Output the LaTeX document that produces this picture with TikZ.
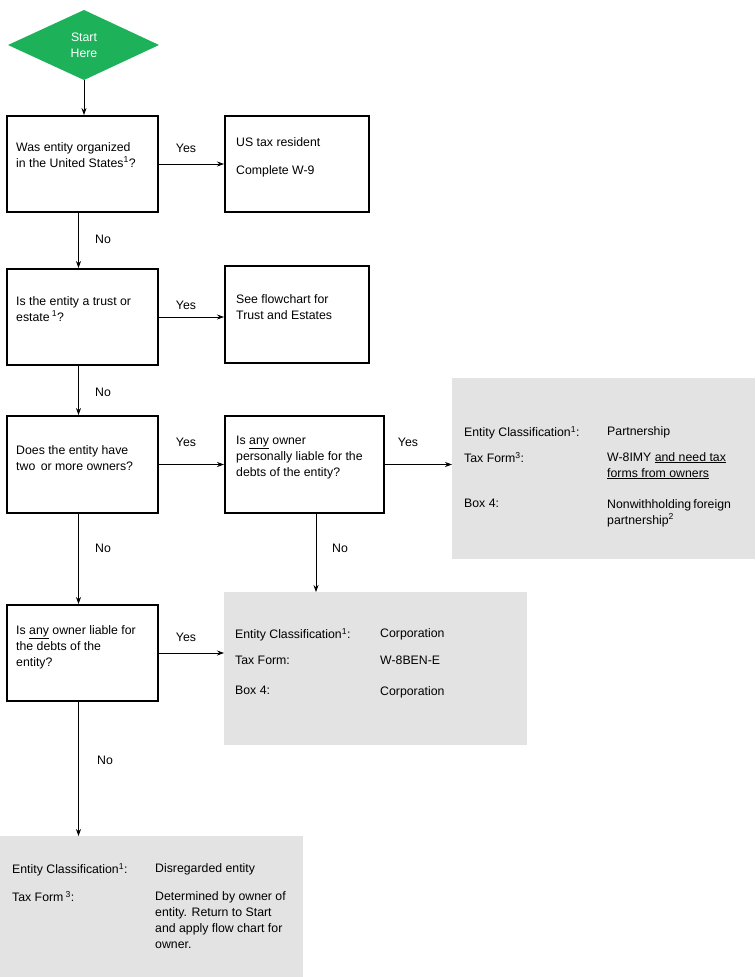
\documentclass[tikz,border=0pt]{standalone}
\usepackage{fontspec}
\setmainfont{Liberation Sans}
\usetikzlibrary{arrows.meta}
\begin{document}
\begin{tikzpicture}[x=1pt,y=-1pt,
  font=\fontsize{12.3}{16}\selectfont,
  box/.style={draw,line width=2pt,anchor=north west,inner sep=0pt},
  grey/.style={fill=black!11,anchor=north west,inner sep=0pt},
  t/.style={anchor=north west,inner sep=0pt,align=left,yshift=10pt},
  arr/.style={-{Stealth[length=7pt,width=5pt]},line width=0.7pt},
  lbl/.style={anchor=base,inner sep=0pt}]
\useasboundingbox (0,0) rectangle (755,977);
\definecolor{startgreen}{HTML}{1DB25A}
\fill[startgreen] (8,45) -- (84,10) -- (159,45) -- (84,80) -- cycle;
\node[text=white,align=center,inner sep=0pt] (start) at (84,45) {Start\\Here};
\coordinate (sb) at (84,80);
% boxes
\node[box,minimum width=151,minimum height=96] (b1) at (6,115) {};
\node[box,minimum width=144,minimum height=96] (us) at (224,115) {};
\node[box,minimum width=151,minimum height=96] (b2) at (6,268) {};
\node[box,minimum width=144,minimum height=97] (tr) at (224,265) {};
\node[box,minimum width=151,minimum height=97] (b3) at (6,415) {};
\node[box,minimum width=159,minimum height=97] (b4) at (224,415) {};
\node[box,minimum width=151,minimum height=96] (b5) at (6,604) {};
\node[grey,minimum width=303,minimum height=181] (pt) at (452,378) {};
\node[grey,minimum width=303,minimum height=153] (co) at (224,592) {};
\node[grey,minimum width=303,minimum height=141] (dr) at (0,836) {};
% texts
\node[t] at (16,152) {Was entity organized\\in the United States\textsuperscript{1}?};
\node[t] at (236,147) {US tax resident};
\node[t] at (236,175) {Complete W-9};
\node[t] at (16,306) {Is the entity a trust or\\estate\,\textsuperscript{1}?};
\node[t] at (236,304) {See flowchart for\\Trust and Estates};
\node[t] at (16,455) {Does the entity have\\two\, or more owners?};
\node[t] at (236,446) {Is \underline{any} owner\\personally liable for the\\debts of the entity?};
\node[t] at (16,635) {Is \underline{any} owner liable for\\the debts of the\\entity?};
\node[t] at (464,436) {Entity Classification\textsuperscript{1}:};
\node[t] at (607,436) {Partnership};
\node[t] at (464,462) {Tax Form\textsuperscript{3}:};
\node[t] at (607,462) {W-8IMY \underline{and need tax}\\\underline{forms from owners}};
\node[t] at (464,509) {Box 4:};
\node[t] at (607,509) {Nonwithholding\,foreign\\partnership\textsuperscript{2}};
\node[t] at (235,638) {Entity Classification\textsuperscript{1}:};
\node[t] at (380,638) {Corporation};
\node[t] at (235,666) {Tax Form:};
\node[t] at (380,666) {W-8BEN-E};
\node[t] at (235,696) {Box 4:};
\node[t] at (380,696) {Corporation};
\node[t] at (12,873) {Entity Classification\textsuperscript{1}:};
\node[t] at (155,873) {Disregarded entity};
\node[t] at (12,901) {Tax Form\,\textsuperscript{3}:};
\node[t] at (155,901) {Determined by owner of\\entity. Return to Start\\and apply flow chart for\\owner.};
% connectors
\coordinate (vx) at (78.5,0);
\draw[arr] (sb) -- (b1.north -| sb);
\draw[arr] (b1.east) -- (us.west);
\node[lbl] at (186,152) {Yes};
\draw[arr] (b1.south -| vx) -- (b2.north -| vx);
\node[lbl] at (103,243) {No};
\draw[arr] (b2.east) -- (b2.east -| tr.west);
\node[lbl] at (186,309) {Yes};
\draw[arr] (b2.south -| vx) -- (b3.north -| vx);
\node[lbl] at (103,396) {No};
\draw[arr] (b3.east) -- (b4.west);
\node[lbl] at (186,446) {Yes};
\draw[arr] (b4.east) -- (b4.east -| pt.west);
\node[lbl] at (408,446) {Yes};
\draw[arr] (b4.south -| 316,0) -- (co.north -| 316,0);
\node[lbl] at (340,552) {No};
\draw[arr] (b3.south -| vx) -- (b5.north -| vx);
\node[lbl] at (103,552) {No};
\draw[arr] (b5.east) -- (b5.east -| co.west);
\node[lbl] at (186,641) {Yes};
\draw[arr] (b5.south -| vx) -- (dr.north -| vx);
\node[lbl] at (105,764) {No};
\end{tikzpicture}
\end{document}
